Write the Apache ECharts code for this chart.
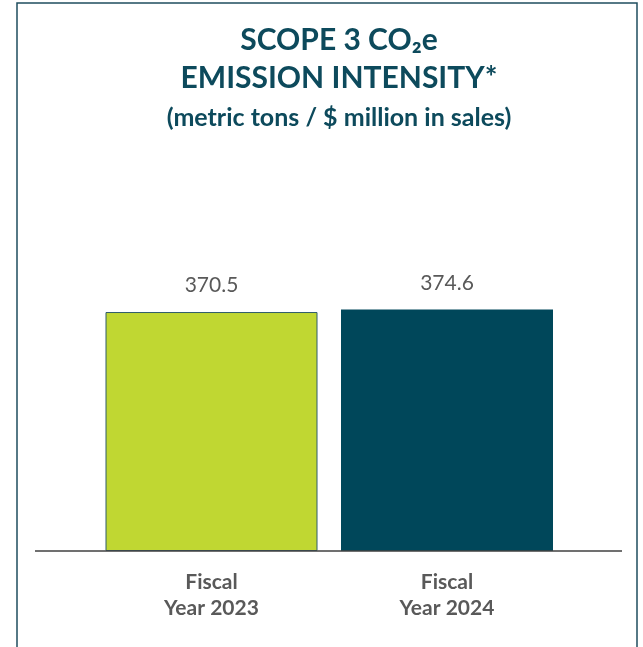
<!DOCTYPE html>
<html>
<head>
<meta charset="utf-8">
<script src="https://cdn.jsdelivr.net/npm/echarts@6/dist/echarts.min.js"></script>
<style>
html,body{margin:0;padding:0;background:#fff;}
#chart{width:643px;height:647px;}
</style>
</head>
<body>
<div id="chart"></div>
<script>
const categories = ["Fiscal\nYear 2023", "Fiscal\nYear 2024"];
const values = [370.5, 374.6];
const barColors = ["#c0d732", "#00475a"];
const titleLines = ["SCOPE 3 CO₂e", "EMISSION INTENSITY*"];
const subtitle = "(metric tons / $ million in sales)";

const chart = echarts.init(document.getElementById('chart'), null, {renderer: 'canvas'});
const font = 'Lato, "Open Sans", sans-serif';
chart.setOption({
  animation: false,
  backgroundColor: '#ffffff',
  title: {
    text: titleLines.join('\n'),
    subtext: subtitle,
    left: 334,
    top: 16,
    textAlign: 'center',
    itemGap: 7,
    textStyle: {fontFamily: font, fontWeight: 'bold', fontSize: 30, color: '#0d4a5c', lineHeight: 38},
    subtextStyle: {fontFamily: font, fontWeight: 'bold', fontSize: 25, color: '#0d4a5c', lineHeight: 28}
  },
  grid: {left: 93.75, right: 78.25, top: 164, bottom: 96},
  xAxis: {
    type: 'category',
    data: categories,
    axisLine: {show: false},
    axisTick: {show: false},
    axisLabel: {margin: 18, fontFamily: font, fontWeight: 'bold', fontSize: 21, lineHeight: 26, color: '#595959'}
  },
  yAxis: {type: 'value', min: 0, max: 600, show: false, splitLine: {show: false}},
  series: [{
    type: 'bar',
    barWidth: 212,
    data: values.map((v, i) => ({
      value: v,
      itemStyle: {color: barColors[i], borderColor: i === 0 ? '#2f5d6b' : barColors[i], borderWidth: i === 0 ? 1 : 0}
    })),
    label: {show: true, position: 'top', distance: 16, fontFamily: font, fontSize: 21, color: '#595959'}
  }],
  graphic: [
    {type: 'line', shape: {x1: 35, y1: 551, x2: 622, y2: 551}, style: {stroke: '#404040', lineWidth: 1.5}, z: 10},
    {type: 'rect', shape: {x: 17, y: 3, width: 620, height: 700}, style: {fill: 'none', stroke: '#1f4e5f', lineWidth: 1.5}}
  ]
});
</script>
</body>
</html>
